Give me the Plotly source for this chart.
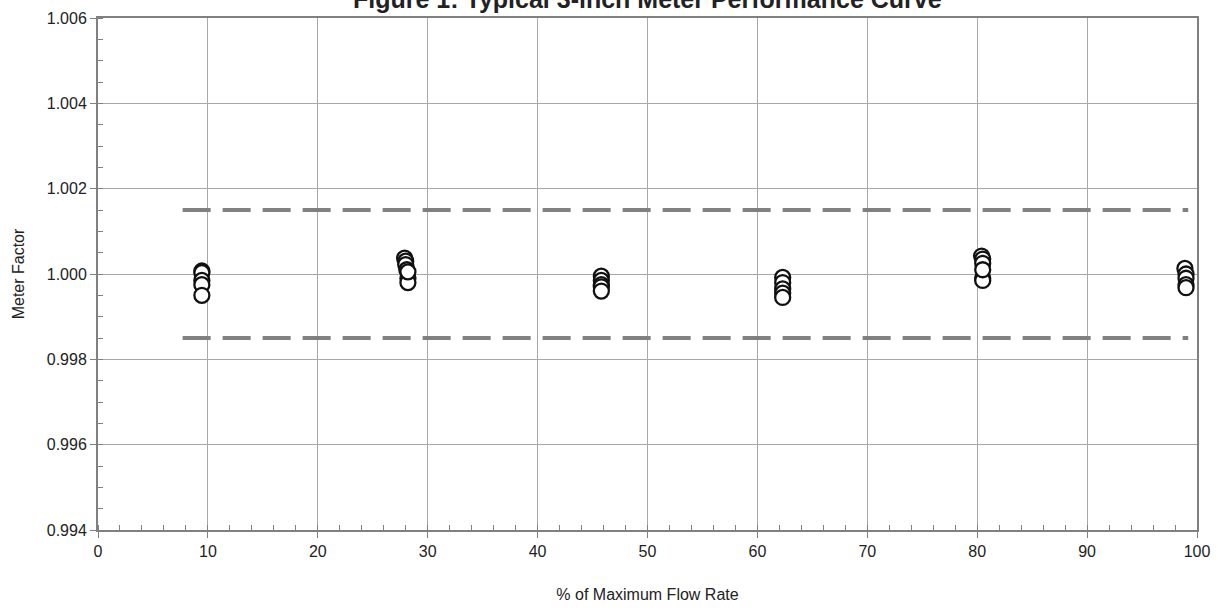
import plotly.graph_objects as go

# Data
flow_pct = [9.45, 9.45, 9.45, 9.45, 9.45,
            27.9, 28.0, 28.0, 28.1, 28.2, 28.2, 28.2,
            45.8, 45.8, 45.8, 45.8, 45.8,
            62.3, 62.3, 62.3, 62.3, 62.3,
            80.4, 80.5, 80.5, 80.5, 80.5, 80.5,
            98.9, 99.0, 99.0, 99.0, 99.0]
meter_factor = [1.00007, 1.00003, 0.99985, 0.99975, 0.99950,
                1.00037, 1.00030, 1.00022, 1.00010, 0.99990, 0.99980, 1.00005,
                0.99995, 0.99985, 0.99975, 0.99970, 0.99960,
                0.99992, 0.99980, 0.99965, 0.99955, 0.99945,
                1.00042, 1.00035, 1.00025, 0.99990, 0.99985, 1.00010,
                1.00013, 1.00000, 0.99990, 0.99975, 0.99968]

limit_x = [7.7, 99.2]
upper_limit = 1.0015
lower_limit = 0.9985

title_text = "Figure 1: Typical 3-inch Meter Performance Curve"
x_title = "% of Maximum Flow Rate"
y_title = "Meter Factor"

font_family = "Liberation Sans, Arial, sans-serif"

fig = go.Figure()

for lim in (upper_limit, lower_limit):
    fig.add_trace(go.Scatter(
        x=limit_x, y=[lim, lim], mode="lines",
        line=dict(color="#808080", width=4, dash="28px,12px"),
        showlegend=False, hoverinfo="skip"))

fig.add_trace(go.Scatter(
    x=flow_pct, y=meter_factor, mode="markers",
    marker=dict(symbol="circle", size=15, color="white",
                line=dict(color="#111111", width=2.3)),
    showlegend=False))

fig.update_layout(
    width=1220, height=610,
    margin=dict(l=98, r=23, t=18, b=80),
    paper_bgcolor="white", plot_bgcolor="white",
    font=dict(family=font_family, size=16, color="#222222"),
    showlegend=False,
)

fig.add_annotation(
    text="<b>" + title_text + "</b>", xref="paper", yref="paper",
    x=0.5, y=1.037, xanchor="center", yanchor="middle",
    showarrow=False, font=dict(family=font_family, size=25, color="#222222"))

fig.update_xaxes(
    range=[0, 100], dtick=10, tick0=0,
    showgrid=True, gridcolor="#a8a8a8", gridwidth=1,
    showline=True, linecolor="#808080", linewidth=2, mirror=True,
    ticks="outside", ticklen=6, tickcolor="#808080", tickwidth=1,
    minor=dict(dtick=2, ticks="inside", ticklen=5, tickcolor="#808080", showgrid=False),
    zeroline=False, automargin=False,
    title=dict(text=x_title, font=dict(size=16), standoff=30),
    tickfont=dict(size=16),
)
fig.update_yaxes(
    range=[0.994, 1.006], dtick=0.002, tick0=0.994, tickformat=".3f",
    showgrid=True, gridcolor="#a8a8a8", gridwidth=1,
    showline=True, linecolor="#808080", linewidth=2, mirror=True,
    ticks="outside", ticklen=6, tickcolor="#808080", tickwidth=1,
    minor=dict(dtick=0.0005, ticks="inside", ticklen=5, tickcolor="#808080", showgrid=False),
    zeroline=False, automargin=False,
    title=dict(text=y_title, font=dict(size=16), standoff=18),
    tickfont=dict(size=16),
)

fig.write_html("out.html", config={"displayModeBar": False},
               post_script="document.body.style.margin='0px';document.body.style.padding='0px';")
